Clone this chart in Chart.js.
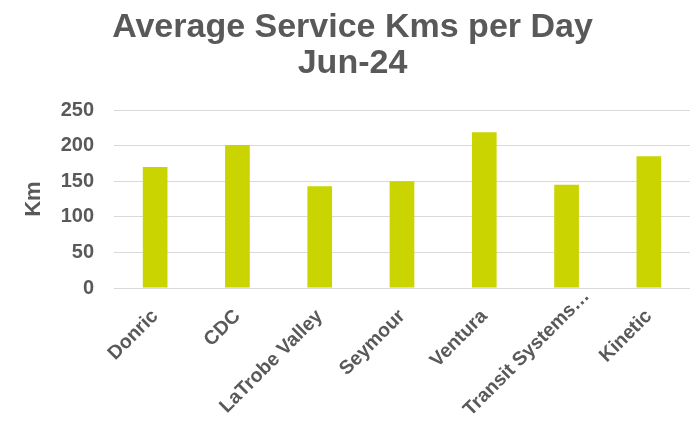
<!DOCTYPE html>
<html>
<head>
<meta charset="utf-8">
<script src="https://cdn.jsdelivr.net/npm/chart.js@4/dist/chart.umd.min.js"></script>
<style>
  html, body { margin: 0; padding: 0; background: #ffffff; }
  #wrap { width: 695px; height: 430px; position: relative; }
</style>
</head>
<body>
<div id="wrap"><canvas id="c" width="695" height="430"></canvas></div>
<script>
const categories = ['Donric', 'CDC', 'LaTrobe Valley', 'Seymour', 'Ventura', 'Transit Systems…', 'Kinetic'];
const kmsPerDay = [170, 201, 143, 150, 219, 145, 185];
const yTicks = [0, 50, 100, 150, 200, 250];
const titleLines = ['Average Service Kms per Day', 'Jun-24'];
const yAxisTitle = 'Km';

const FONT = "'Liberation Sans', Arial, sans-serif";
const TXT = '#595959';

// Long category labels are nudged up along their slant so they fit, as in the original.
const longLabelNudge = {
  id: 'longLabelNudge',
  beforeDraw(chart) {
    const scale = chart.scales.x;
    const items = scale.getLabelItems();
    items.forEach(it => {
      const len = String(it.label).length;
      if (len > 15) {
        const shift = 20;
        it.options.translation = [it.options.translation[0] + shift, it.options.translation[1] - shift];
      }
    });
  }
};

new Chart(document.getElementById('c'), {
  type: 'bar',
  data: {
    labels: categories,
    datasets: [{
      data: kmsPerDay,
      backgroundColor: '#c9d400',
      borderWidth: 0,
      barPercentage: 0.3,
      categoryPercentage: 1.0
    }]
  },
  plugins: [longLabelNudge],
  options: {
    responsive: false,
    animation: false,
    devicePixelRatio: 1,
    layout: { padding: { left: 15, right: 5, top: 10, bottom: 0 } },
    plugins: {
      legend: { display: false },
      tooltip: { enabled: false },
      title: {
        display: true,
        text: titleLines,
        color: TXT,
        font: { family: FONT, size: 34, weight: 'bold', lineHeight: 1.06 },
        padding: { top: 0, bottom: 28 }
      }
    },
    scales: {
      x: {
        grid: { display: false },
        border: { display: false },
        ticks: {
          color: TXT,
          font: { family: FONT, size: 19.5, weight: 'bold' },
          maxRotation: 45,
          minRotation: 45,
          autoSkip: false,
          padding: 9
        },
        afterFit(scale) { scale.height = 142; }
      },
      y: {
        min: 0,
        max: 250,
        afterBuildTicks(scale) { scale.ticks = yTicks.map(v => ({ value: v })); },
        grid: { color: '#d9d9d9', lineWidth: 1, drawTicks: false },
        border: { display: false },
        ticks: {
          color: TXT,
          font: { family: FONT, size: 20, weight: 'bold' },
          padding: 20
        },
        title: {
          display: true,
          text: yAxisTitle,
          color: TXT,
          font: { family: FONT, size: 22, weight: 'bold' },
          padding: { top: 6, bottom: 0 }
        },
        afterFit(scale) { scale.width = 99; }
      }
    }
  }
});
</script>
</body>
</html>
